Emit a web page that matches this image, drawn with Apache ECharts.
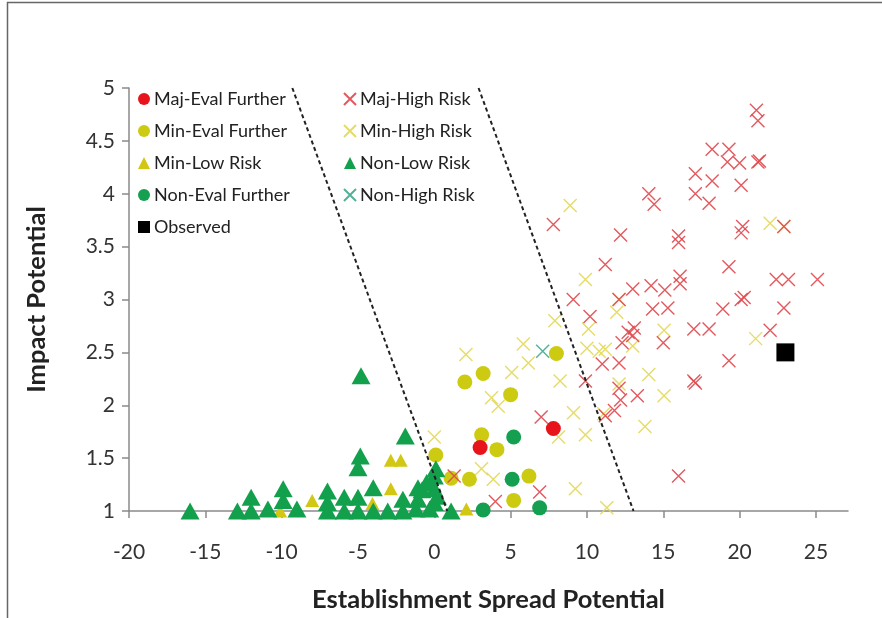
<!DOCTYPE html>
<html><head><meta charset="utf-8">
<script src="https://cdn.jsdelivr.net/npm/echarts@6/dist/echarts.min.js"></script>
<style>html,body{margin:0;padding:0;background:#fff}#c{width:882px;height:618px}</style>
</head><body><div id="c"></div>
<script>
// ---- tick labels ----
const xTicks = [-20, -15, -10, -5, 0, 5, 10, 15, 20, 25];
const yTicks = [1, 1.5, 2, 2.5, 3, 3.5, 4, 4.5, 5];

// ---- series values [establishment spread potential, impact potential] ----
const majEvalFurther = [[3.0, 1.60], [7.8, 1.78]];
const minEvalFurther = [[2.0, 2.22], [3.2, 2.30], [5.0, 2.10], [8.0, 2.49], [3.1, 1.72], [4.1, 1.58],
  [0.1, 1.53], [1.1, 1.31], [2.3, 1.30], [6.2, 1.33], [5.2, 1.10]];
const minLowRisk = [[-10.1, 1.0], [-8.0, 1.10], [-4.05, 1.07], [-2.85, 1.48], [-2.2, 1.48], [-2.85, 1.21], [2.1, 1.02]];
const nonEvalFurther = [[5.2, 1.70], [5.1, 1.30], [3.2, 1.01], [6.9, 1.03]];
const observed = [[23.0, 2.50]];
const majHighRisk = [[21.1, 4.79], [21.2, 4.69], [18.2, 4.42], [19.3, 4.42], [19.2, 4.30], [20.0, 4.29],
  [21.2, 4.30], [21.3, 4.31], [17.1, 4.19], [18.2, 4.12], [20.1, 4.08], [17.1, 4.0], [18.0, 3.91],
  [14.05, 4.0], [14.4, 3.90], [7.8, 3.71], [12.2, 3.61], [16.0, 3.60], [16.0, 3.54], [20.2, 3.69],
  [20.1, 3.63], [22.9, 3.69], [19.3, 3.31], [11.2, 3.33], [22.4, 3.19], [23.2, 3.19], [25.1, 3.19],
  [16.1, 3.22], [16.1, 3.15], [14.2, 3.13], [15.1, 3.09], [13.0, 3.10], [18.9, 2.91], [20.1, 3.0],
  [20.3, 3.02], [22.9, 2.92], [14.3, 2.91], [15.3, 2.92], [9.1, 3.0], [10.2, 2.84], [13.1, 2.73],
  [12.7, 2.69], [17.0, 2.72], [18.0, 2.72], [22.0, 2.71], [12.1, 3.0], [15.0, 2.59], [12.3, 2.59],
  [13.0, 2.66], [11.0, 2.39], [12.1, 2.40], [9.9, 2.23], [17.0, 2.23], [17.1, 2.21], [19.3, 2.42],
  [11.2, 1.90], [11.8, 1.95], [12.2, 2.05], [12.1, 2.16], [13.3, 2.09], [7.0, 1.89], [6.9, 1.18],
  [4.0, 1.09], [16.0, 1.33], [1.3, 1.33]];
const minHighRisk = [[8.9, 3.89], [22.0, 3.72], [22.9, 3.69], [9.9, 3.19], [12.1, 3.0], [11.95, 2.88],
  [7.9, 2.80], [10.1, 2.72], [15.05, 2.71], [21.05, 2.63], [10.0, 2.54], [10.8, 2.51], [11.2, 2.53],
  [13.0, 2.56], [14.05, 2.29], [12.1, 2.20], [15.05, 2.09], [13.8, 1.80], [11.3, 1.03], [2.07, 2.48],
  [5.83, 2.58], [6.16, 2.40], [5.07, 2.31], [3.75, 2.07], [4.19, 1.99], [8.24, 2.23], [9.12, 1.93],
  [9.9, 1.72], [8.14, 1.70], [0.0, 1.70], [3.09, 1.40], [3.86, 1.30], [9.24, 1.21], [11.1, 1.92]];
const nonLowRisk = [[-16, 1.0], [-12.9, 1.0], [-12, 1.0], [-12, 1.13], [-10.9, 1.02], [-9.9, 1.10],
  [-9.9, 1.21], [-9.0, 1.02], [-7.0, 1.0], [-7.0, 1.08], [-7.0, 1.19], [-5.9, 1.0], [-5.9, 1.13],
  [-5.0, 1.0], [-5.0, 1.13], [-5.0, 1.41], [-4.85, 1.52], [-4.8, 2.28], [-4.0, 1.0], [-4.0, 1.22],
  [-3.05, 1.0], [-2.06, 1.0], [-2.06, 1.11], [-1.9, 1.71], [-1.2, 1.02], [-1.07, 1.11], [-1.07, 1.22],
  [-0.8, 1.20], [-0.5, 1.27], [-0.3, 1.02], [0.0, 1.08], [0.0, 1.21], [0.0, 1.33], [0.1, 1.40],
  [0.2, 1.14], [1.1, 1.0]];
const nonHighRisk = [[7.1, 2.51]];

// ---- dashed boundary lines ----
const boundaryLeftX = [-9.3, 0.85];
const boundaryRightX = [2.9, 13.05];
const boundaryY = [5, 1];

const legendCol1 = ['Maj-Eval Further', 'Min-Eval Further', 'Min-Low Risk', 'Non-Eval Further', 'Observed'];
const legendCol2 = ['Maj-High Risk', 'Min-High Risk', 'Non-Low Risk', 'Non-High Risk'];

const FONT = 'Lato, "Open Sans", sans-serif';
const XPATH = 'path://M0,0L10,10M10,0L0,10';

function pts(arr) { return arr.map(p => [p[0], p[1]]); }
function line(xs, ys) { return xs.map((x, i) => [x, ys[i]]); }

function circle(name, data, color) {
  return { name, type: 'scatter', data: pts(data), symbol: 'circle', symbolSize: 15,
    itemStyle: { color: color, opacity: 1 } };
}
function cross(name, data, color) {
  return { name, type: 'scatter', data: pts(data), symbol: XPATH, symbolSize: 13,
    itemStyle: { color: 'rgba(0,0,0,0)', borderColor: color, borderWidth: 1.4, opacity: 0.9 } };
}
function tri(name, data, color, size) {
  return { name, type: 'scatter', data: pts(data), symbol: 'triangle', symbolSize: size,
    itemStyle: { color: color, opacity: 1 } };
}

const chart = echarts.init(document.getElementById('c'), null, { renderer: 'canvas' });
const legendBase = {
  orient: 'vertical', top: 85, itemGap: 14, itemWidth: 12, itemHeight: 12,
  textStyle: { fontFamily: FONT, fontSize: 18, color: '#222', lineHeight: 18, padding: [0, 0, 0, -1] },
  selectedMode: false
};
chart.setOption({
  backgroundColor: '#fff',
  animation: false,
  graphic: [{ type: 'rect', shape: { x: 7.5, y: 2.5, width: 900, height: 700 },
    style: { fill: 'none', stroke: '#666', lineWidth: 1.5 }, silent: true }],
  grid: { left: 129, top: 88, right: 34, bottom: 106 },
  legend: [
    Object.assign({ left: 133, data: legendCol1 }, legendBase),
    Object.assign({ left: 338, data: legendCol2 }, legendBase)
  ],
  xAxis: {
    type: 'value', min: -20, max: 27.1,
    name: 'Establishment Spread Potential', nameLocation: 'middle', nameGap: 76,
    nameTextStyle: { fontFamily: FONT, fontSize: 25.5, fontWeight: 'bold', color: '#222' },
    axisLine: { show: true, onZero: false, lineStyle: { color: '#8a8a8a', width: 1.5 } },
    axisTick: { show: true, inside: false, length: 7, customValues: xTicks, lineStyle: { color: '#8a8a8a', width: 1.5 } },
    axisLabel: { customValues: xTicks, margin: 31, fontFamily: FONT, fontSize: 21, color: '#333' },
    splitLine: { show: false }
  },
  yAxis: {
    type: 'value', min: 1, max: 5, interval: 0.5,
    name: 'Impact Potential', nameLocation: 'middle', nameGap: 79, nameRotate: 90,
    nameTextStyle: { fontFamily: FONT, fontSize: 25.5, fontWeight: 'bold', color: '#222' },
    axisLine: { show: true, onZero: false, lineStyle: { color: '#8a8a8a', width: 1.5 } },
    axisTick: { show: true, inside: false, length: 7, lineStyle: { color: '#8a8a8a', width: 1.5 } },
    axisLabel: { margin: 14, fontFamily: FONT, fontSize: 21, color: '#333',
      formatter: v => yTicks.indexOf(v) >= 0 ? String(v) : '' },
    splitLine: { show: false }
  },
  series: [
    circle('Min-Eval Further', minEvalFurther, '#CCCB12'),
    cross('Min-High Risk', minHighRisk, '#E2D856'),
    cross('Maj-High Risk', majHighRisk, '#E0474C'),
    circle('Maj-Eval Further', majEvalFurther, '#E8141C'),
    tri('Min-Low Risk', minLowRisk, '#D2C814', [14, 13]),
    tri('Non-Low Risk', nonLowRisk, '#12A04C', [19, 17]),
    circle('Non-Eval Further', nonEvalFurther, '#14A050'),
    cross('Non-High Risk', nonHighRisk, '#3FA88C'),
    { name: 'Observed', type: 'scatter', data: pts(observed), symbol: 'rect', symbolSize: 18,
      itemStyle: { color: '#000', opacity: 1 } },
    { name: 'boundaryLeft', type: 'line', data: line(boundaryLeftX, boundaryY), symbol: 'none',
      lineStyle: { color: '#222', width: 2, type: [4, 3] }, z: 5 },
    { name: 'boundaryRight', type: 'line', data: line(boundaryRightX, boundaryY), symbol: 'none',
      lineStyle: { color: '#222', width: 2, type: [4, 3] }, z: 5 }
  ]
});
</script></body></html>
